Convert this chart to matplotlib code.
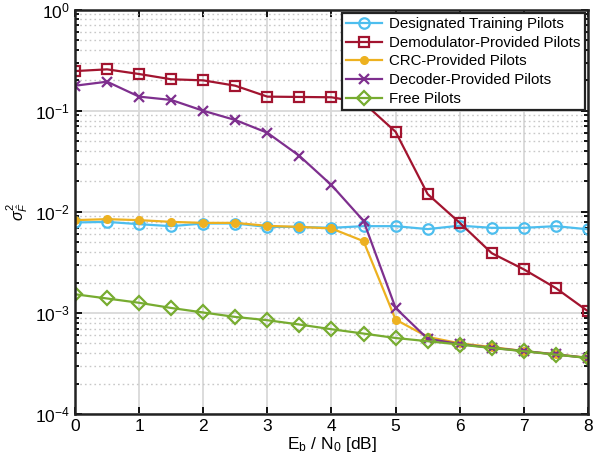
import matplotlib
matplotlib.use("Agg")
import matplotlib.pyplot as plt
from matplotlib.ticker import LogLocator, NullFormatter, MultipleLocator

plt.rcParams['font.family'] = ['Liberation Sans', 'DejaVu Sans']
plt.rcParams['mathtext.fontset'] = 'custom'
plt.rcParams['mathtext.rm'] = 'Liberation Sans'
plt.rcParams['mathtext.it'] = 'Liberation Sans:italic'

ebn0 = [0, 0.5, 1, 1.5, 2, 2.5, 3, 3.5, 4, 4.5, 5, 5.5, 6, 6.5, 7, 7.5, 8]

designated = [0.00785, 0.00796, 0.00755, 0.00722, 0.00767, 0.00767, 0.0071, 0.0071, 0.00695,
              0.00722, 0.00722, 0.00675, 0.0073, 0.00695, 0.00695, 0.00722, 0.00672]
demodulator = [0.247, 0.257, 0.231, 0.205, 0.200, 0.177, 0.138, 0.137, 0.136,
               0.12, 0.062, 0.015, 0.0078, 0.0039, 0.0027, 0.00176, 0.00104]
crc = [0.00828, 0.00847, 0.00828, 0.00796, 0.00778, 0.00778, 0.00727, 0.0071, 0.00685,
       0.00513, 0.00086, 0.00058, 0.00050, 0.00046, 0.00042, 0.00039, 0.00036]
decoder = [0.177, 0.194, 0.138, 0.128, 0.100, 0.081, 0.0606, 0.0358, 0.0184,
           0.00815, 0.00112, 0.000555, 0.000492, 0.000452, 0.000420, 0.000388, 0.000359]
free = [0.00153, 0.00139, 0.00126, 0.00112, 0.00101, 0.000913, 0.000847, 0.000768, 0.00069,
        0.000625, 0.000565, 0.000525, 0.000487, 0.00045, 0.000418, 0.000387, 0.000358]

labels = ['Designated Training Pilots', 'Demodulator-Provided Pilots', 'CRC-Provided Pilots',
          'Decoder-Provided Pilots', 'Free Pilots']
colors = ['#4DBEEE', '#A2142F', '#EDB120', '#7E2F8E', '#77AC30']

fig = plt.figure(figsize=(6.02, 4.73), dpi=100)
ax = fig.add_axes([0.1246, 0.1247, 0.852, 0.8548])

lw = 1.6
ax.plot(ebn0, designated, '-o', color=colors[0], lw=lw, ms=7.5, mfc='none', mew=1.6, label=labels[0])
ax.plot(ebn0, demodulator, '-s', color=colors[1], lw=lw, ms=6.5, mfc='none', mew=1.6, label=labels[1])
ax.plot(ebn0, crc, '-o', color=colors[2], lw=lw, ms=5.5, mfc=colors[2], mew=1.0, label=labels[2])
ax.plot(ebn0, decoder, '-x', color=colors[3], lw=lw, ms=6.5, mew=1.6, label=labels[3])
ax.plot(ebn0, free, '-D', color=colors[4], lw=lw, ms=7.0, mfc='none', mew=1.6, label=labels[4])

ax.set_yscale('log')
ax.set_xlim(0, 8)
ax.set_ylim(1e-4, 1)
ax.xaxis.set_major_locator(MultipleLocator(1))
ax.yaxis.set_major_locator(LogLocator(base=10, numticks=10))
ax.yaxis.set_minor_locator(LogLocator(base=10, subs=range(2, 10), numticks=10))
ax.yaxis.set_minor_formatter(NullFormatter())

ax.grid(True, which='major', color='#d9d9d9', lw=1.3, ls='-')
ax.grid(True, which='minor', axis='y', color='#c8c8c8', lw=1.0, ls=(0, (1.2, 2.2)))
ax.set_axisbelow(True)

ax.tick_params(which='both', direction='in', top=True, right=True, labelsize=12.5, width=1.3)
ax.tick_params(which='major', length=5)
ax.tick_params(which='minor', length=3)
for s in ax.spines.values():
    s.set_linewidth(1.8)
    s.set_color('#222222')

ax.set_xlabel(r'E$_\mathrm{b}$ / N$_\mathrm{0}$ [dB]', fontsize=12.5, labelpad=1)
ax.set_ylabel(r'$\sigma^2_{\hat{F}}$', fontsize=11.5, labelpad=4)

leg = ax.legend(loc='upper right', fontsize=10.8, frameon=True, fancybox=False,
                edgecolor='#222222', framealpha=1, borderaxespad=0.2,
                handlelength=2.4, handletextpad=0.45, labelspacing=0.31, borderpad=0.3)
leg.get_frame().set_linewidth(1.6)

fig.savefig('out.png', dpi=100)
